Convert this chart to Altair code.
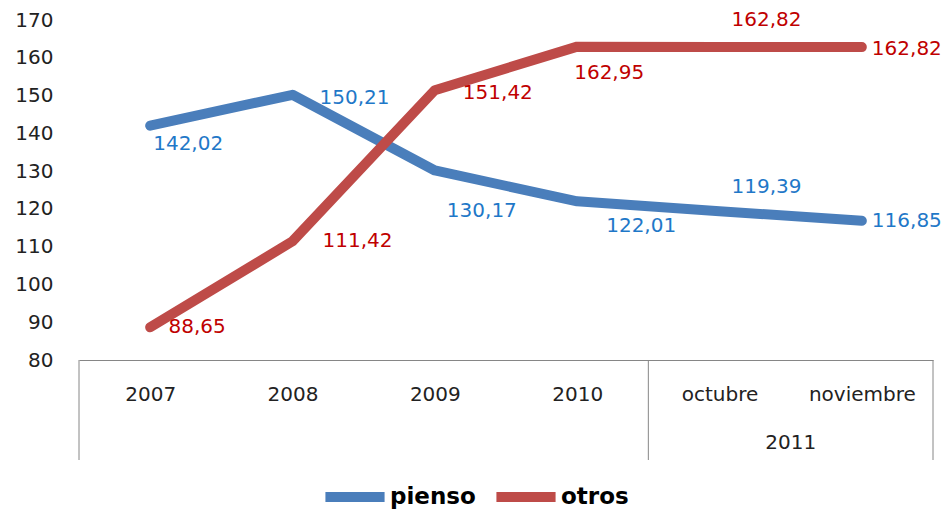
import altair as alt
import pandas as pd

# ---- data ----
CATEGORIES = ["2007", "2008", "2009", "2010", "octubre", "noviembre"]
GROUP_LABEL = "2011"
SERIES = ["pienso", "otros"]
PIENSO = [142.02, 150.21, 130.17, 122.01, 119.39, 116.85]
OTROS = [88.65, 111.42, 151.42, 162.95, 162.82, 162.82]
Y_TICKS = [80, 90, 100, 110, 120, 130, 140, 150, 160, 170]
DIVIDERS = [-0.5, 3.5, 5.5]      # category-group boundaries (in category index units)
GROUP_CENTER = [4.5]             # centre of the "2011" group

# ---- style ----
FONT = "DejaVu Sans"
LINE_COLORS = ["#4A7EBB", "#BE4B48"]
LABEL_COLORS = {"pienso": "#1F78C8", "otros": "#C00000"}
AXIS_GRAY = "#868686"
LABEL_OFFSETS = {
    "pienso": [(38, 18), (62, 3), (47, 41), (64, 25), (47, -24), (45, 0)],
    "otros": [(47, 0), (65, 0), (63, 3), (32, 26), (47, -27), (45, 2)],
}

rows = []
for name, vals in zip(SERIES, [PIENSO, OTROS]):
    for i, v in enumerate(vals):
        rows.append({"idx": i, "cat": CATEGORIES[i], "value": v, "series": name,
                     "label": f"{v:.2f}".replace(".", ",")})
df = pd.DataFrame(rows)

xscale = alt.Scale(domain=[-0.5, len(CATEGORIES) - 0.5], nice=False, zero=False)
yscale = alt.Scale(domain=[80, 170], nice=False, zero=False)

label_expr = "[" + ",".join(f"'{c}'" for c in CATEGORIES) + "][datum.value]"

x_axis = alt.Axis(values=list(range(len(CATEGORIES))), labelExpr=label_expr, grid=False,
                  ticks=False, tickSize=0, domainColor=AXIS_GRAY, domainWidth=1,
                  labelPadding=24, labelFontSize=20, labelFont=FONT, labelColor="#222",
                  labelFlush=False, labelOverlap=False, title=None)
y_axis = alt.Axis(values=Y_TICKS, grid=False, domain=False, ticks=False, tickSize=0,
                  labelPadding=26, labelFontSize=20, labelFont=FONT, labelColor="#222",
                  title=None)

lines = alt.Chart(df).mark_line(strokeWidth=10, strokeCap="round", strokeJoin="round").encode(
    x=alt.X("idx:Q", scale=xscale, axis=x_axis),
    y=alt.Y("value:Q", scale=yscale, axis=y_axis),
    color=alt.Color("series:N", scale=alt.Scale(domain=SERIES, range=LINE_COLORS),
                    legend=alt.Legend(title=None, orient="none", legendX=241, legendY=442,
                                      direction="horizontal", symbolType="stroke",
                                      symbolStrokeWidth=10, symbolSize=3500,
                                      labelFontSize=23, labelFontWeight="bold",
                                      labelColor="#000", labelFont=FONT,
                                      columnPadding=0, labelOffset=0)),
    order="idx:Q",
)

label_layers = []
for name in SERIES:
    for i, (dx, dy) in enumerate(LABEL_OFFSETS[name]):
        label_layers.append(
            alt.Chart(df).transform_filter(
                (alt.datum.series == name) & (alt.datum.idx == i)
            ).mark_text(dx=dx, dy=dy, align="center", baseline="middle", fontSize=20,
                        font=FONT, color=LABEL_COLORS[name]).encode(
                x=alt.X("idx:Q", scale=xscale, axis=x_axis),
                y=alt.Y("value:Q", scale=yscale, axis=y_axis),
                text="label:N",
            )
        )

rules = alt.Chart(pd.DataFrame({"pos": DIVIDERS})).mark_rule(
    color=AXIS_GRAY, strokeWidth=1).encode(
    x=alt.X("pos:Q", scale=xscale, axis=x_axis),
    y=alt.value(340), y2=alt.value(440),
)

group_text = alt.Chart(pd.DataFrame({"pos": GROUP_CENTER, "label": [GROUP_LABEL]})).mark_text(
    fontSize=20, font=FONT, color="#222", align="center", baseline="middle").encode(
    x=alt.X("pos:Q", scale=xscale, axis=x_axis),
    y=alt.value(423),
    text="label:N",
)

chart = alt.layer(lines, rules, group_text, *label_layers).properties(
    width=854, height=340,
    autosize=alt.AutoSizeParams(type="none"),
    padding={"left": 71, "top": 12, "right": 10, "bottom": 150},
    background="white",
).configure_view(stroke=None)

chart.save("out.html", embed_options={"renderer": "svg", "actions": False})
